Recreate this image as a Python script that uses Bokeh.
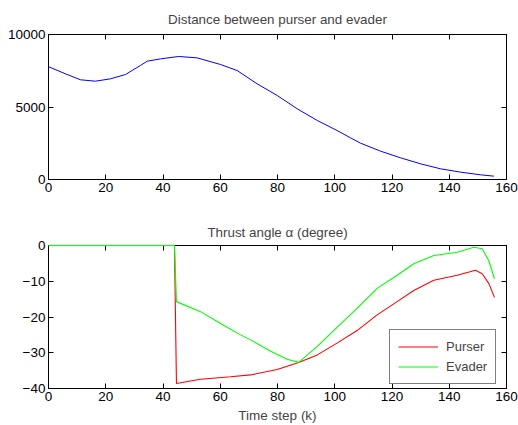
from bokeh.plotting import figure
from bokeh.layouts import column
from bokeh.models import FixedTicker, LinearAxis, Range1d, Legend, LegendItem
from bokeh.embed import file_html
from bokeh.resources import INLINE

# ---- data ----
dist_k = [0, 5.9, 11.2, 16.4, 21.7, 26.9, 32.1, 34.5, 39.1, 45.5, 51.9, 60.1,
          65.9, 72.9, 79.9, 86.9, 93.9, 100.8, 105.5, 109, 116, 123, 130, 137,
          144, 151, 155.6]
dist = [7780, 7290, 6876, 6780, 6945, 7241, 7862, 8160, 8320, 8483, 8390, 7931,
        7517, 6597, 5793, 4874, 4069, 3379, 2874, 2506, 1955, 1494, 1080, 735,
        506, 322, 230]

purser_k = [0, 44, 44.7, 53.1, 63.6, 70.6, 79.9, 87.4, 93.9, 100.8, 107.8,
            114.8, 121.8, 127.6, 134.6, 142.8, 149.2, 151.5, 153.8, 155.8]
purser = [0, 0, -38.6, -37.4, -36.7, -36.2, -34.7, -32.7, -30.6, -27.3, -23.8,
          -19.4, -15.7, -12.6, -9.7, -8.3, -6.9, -7.9, -10.6, -14.5]

evader_k = [0, 44, 44.7, 53.1, 60.1, 67.1, 70.6, 77.6, 83.4, 87.4, 93.9, 100.8,
            107.8, 114.8, 121.8, 127.6, 134.6, 142.8, 148.6, 151.5, 153.8, 155.8]
evader = [0, 0, -15.7, -18.5, -21.8, -25.0, -26.4, -29.6, -31.8, -32.7, -28.2,
          -22.9, -17.6, -12.0, -8.3, -5.1, -2.8, -1.9, -0.5, -0.9, -4.2, -9.3]

x_ticks = [0, 20, 40, 60, 80, 100, 120, 140, 160]
dist_ticks = [0, 5000, 10000]
ang_ticks = [-40, -30, -20, -10, 0]

FONT = "Liberation Sans"


def style(p, yticks, title_standoff):
    p.outline_line_color = "black"
    p.outline_line_width = 1
    p.xgrid.visible = False
    p.ygrid.visible = False
    p.background_fill_color = "white"
    p.border_fill_color = "white"
    p.title.text_font = FONT
    p.title.text_font_style = "normal"
    p.title.text_font_size = "13.4px"
    p.title.align = "center"
    p.title.standoff = title_standoff
    for ax in p.xaxis + p.yaxis:
        ax.major_tick_in = 5
        ax.major_tick_out = 0
        ax.minor_tick_line_color = None
        ax.major_label_text_font = FONT
        ax.major_label_text_font_size = "13.5px"
        ax.major_label_text_color = "black"
        ax.axis_line_color = "black"
        ax.major_label_standoff = 3
    p.xaxis.ticker = FixedTicker(ticks=x_ticks)
    p.yaxis.ticker = FixedTicker(ticks=yticks)
    # mirror axes (ticks on all four sides, labels not drawn)
    for loc, ticks in (("right", yticks), ("above", x_ticks)):
        ax = LinearAxis(ticker=FixedTicker(ticks=ticks))
        ax.major_tick_in = 5
        ax.major_tick_out = 0
        ax.minor_tick_line_color = None
        ax.major_label_text_font_size = "1px"
        ax.major_label_text_color = None
        ax.major_label_standoff = 0
        ax.axis_line_color = "black"
        p.add_layout(ax, loc)


p1 = figure(width=518, height=215, output_backend="svg", toolbar_location=None,
            title="Distance between purser and evader",
            x_range=Range1d(0, 160), y_range=Range1d(0, 10000),
            min_border_left=48, min_border_right=12, min_border_top=34,
            min_border_bottom=36)
p1.line(dist_k, dist, line_color="#0000ff", line_width=1, level="overlay")
style(p1, dist_ticks, 12)
p1.title.vertical_align = "top"

p2 = figure(width=518, height=210, output_backend="svg", toolbar_location=None,
            title="Thrust angle \u03b1 (degree)",
            x_range=Range1d(0, 160), y_range=Range1d(-40, 0),
            min_border_left=48, min_border_right=12, min_border_top=30,
            min_border_bottom=36)
r_p = p2.line(purser_k, purser, line_color="#ff0000", line_width=1.1,
              level="overlay")
r_e = p2.line(evader_k, evader, line_color="#00ff00", line_width=1.1,
              level="overlay")
style(p2, ang_ticks, 12)
bx = p2.below[0]
bx.axis_label = "Time step (k)"
bx.axis_label_text_font = FONT
bx.axis_label_text_font_style = "normal"
bx.axis_label_text_font_size = "13.5px"
bx.axis_label_standoff = 4

legend = Legend(items=[LegendItem(label="Purser", renderers=[r_p]),
                       LegendItem(label="Evader", renderers=[r_e])],
                location=(341, 4))
legend.border_line_color = "black"
legend.border_line_width = 1
legend.background_fill_alpha = 1
legend.label_text_font = FONT
legend.label_text_font_size = "13px"
legend.glyph_width = 40
legend.glyph_height = 17
legend.label_height = 17
legend.label_standoff = 8
legend.spacing = 3
legend.padding = 8
legend.margin = 0
p2.add_layout(legend)

layout = column(p1, p2, spacing=0)
open("out.html", "w").write(file_html(layout, INLINE))
